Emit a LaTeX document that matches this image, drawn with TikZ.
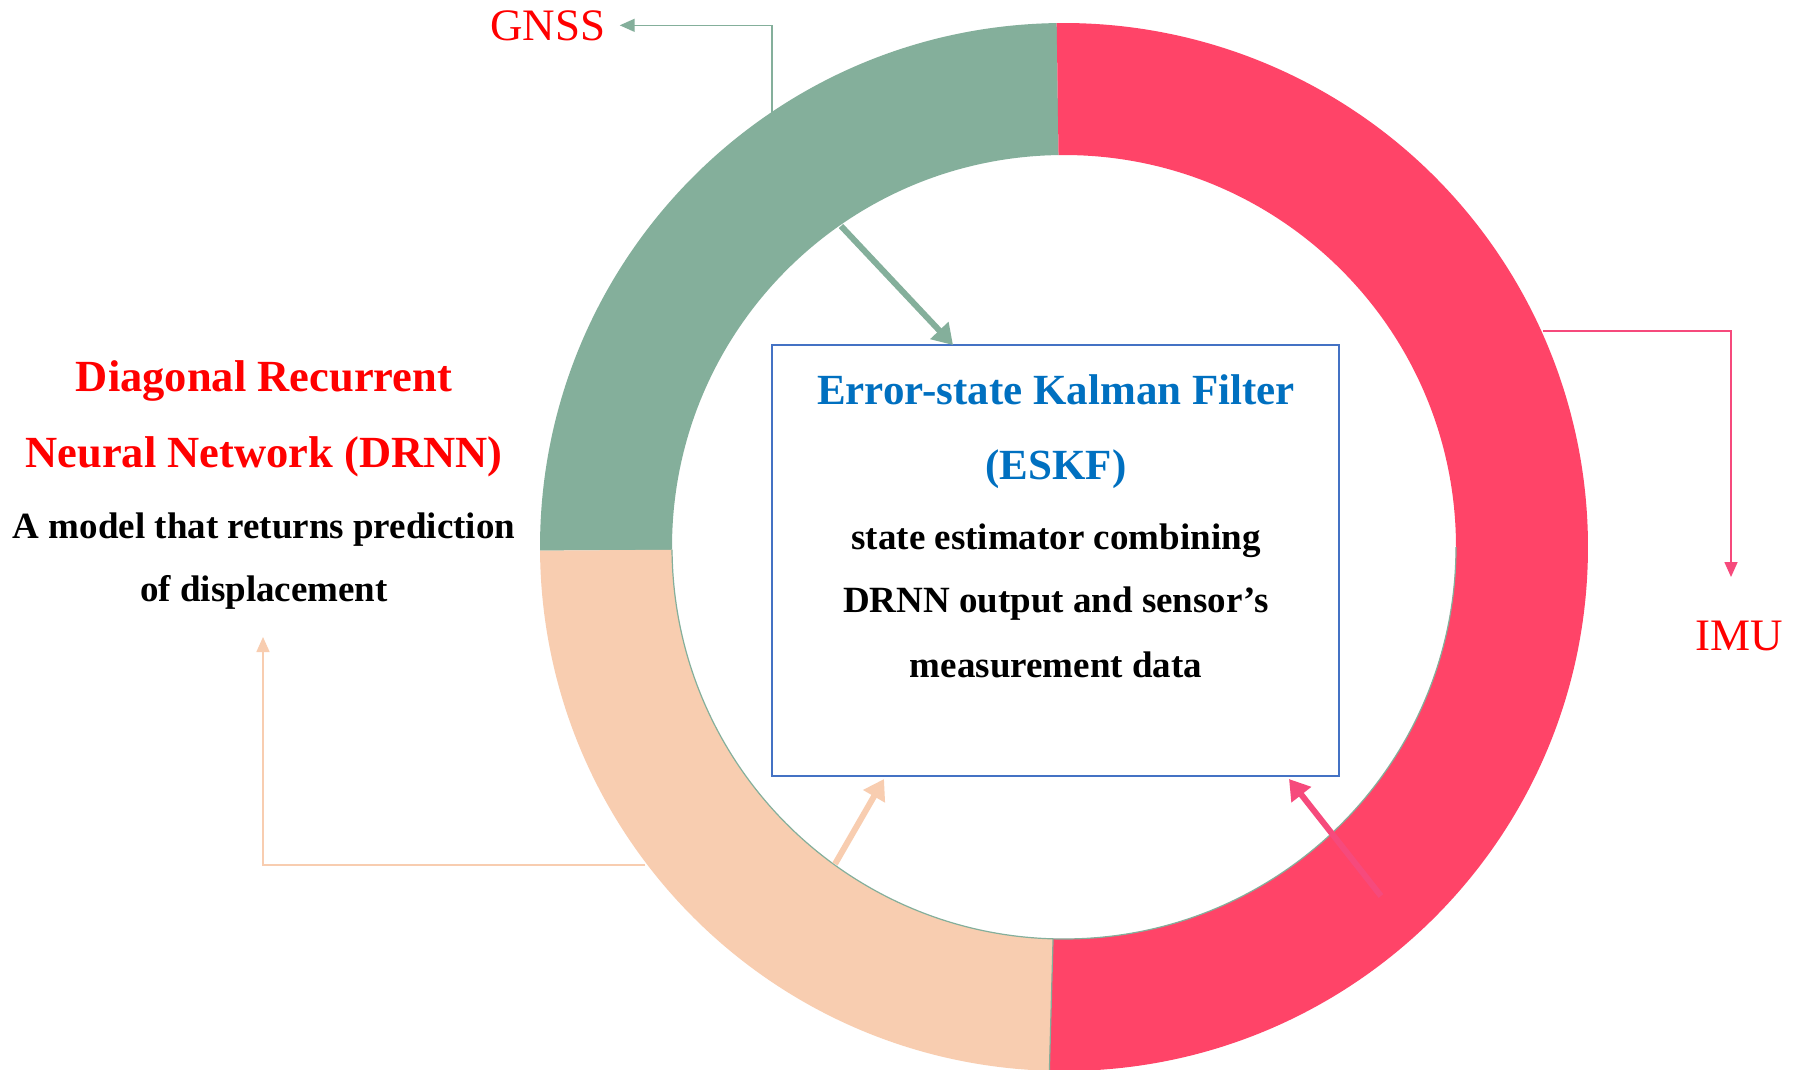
\documentclass[tikz,border=0pt]{standalone}
\usepackage{fontspec}
\setmainfont{Liberation Serif}
\usetikzlibrary{arrows.meta,calc}
\definecolor{ringgreen}{RGB}{132,175,155}
\definecolor{ringred}{RGB}{255,68,104}
\definecolor{ringpeach}{RGB}{248,205,176}
\definecolor{boxblue}{RGB}{68,114,196}
\definecolor{titleblue}{RGB}{0,112,192}
\definecolor{labelred}{RGB}{255,0,0}
\definecolor{arrowpink}{RGB}{246,74,124}
\tikzset{
  sensorlbl/.style={text=labelred, font=\fontsize{45}{50}\selectfont, inner sep=0pt},
  drnntitle/.style={text=labelred, font=\bfseries\fontsize{44.5}{50}\selectfont, inner sep=0pt, anchor=base},
  drnnbody/.style={text=black, font=\bfseries\fontsize{37}{42}\selectfont, inner sep=0pt, anchor=base},
  eskftitle/.style={text=titleblue, font=\bfseries\fontsize{43}{48}\selectfont, inner sep=0pt, anchor=base},
  eskfbody/.style={text=black, font=\bfseries\fontsize{37}{42}\selectfont, inner sep=0pt, anchor=base},
  thinconn/.style={line width=1.6pt, -{Triangle[length=15pt,width=13pt]}},
  thickconn/.style={line width=6pt, -{Triangle[length=20pt,width=24pt]}},
}
\begin{document}
\begin{tikzpicture}[x=1pt,y=1pt]
\useasboundingbox (0,0) rectangle (1801,-1069);
\fill[white] (0,0) rectangle (1801,-1069);

% doughnut ring
\begin{scope}[shift={(1064,-547)}]
  \fill[ringgreen] (90.8:524pt) arc[start angle=90.8, end angle=180.4, radius=524pt]
     -- (180.4:392pt) arc[start angle=180.4, end angle=90.8, radius=392pt] -- cycle;
  \fill[ringpeach] (180.4:524pt) arc[start angle=180.4, end angle=268.4, radius=524pt]
     -- (268.4:392pt) arc[start angle=268.4, end angle=180.4, radius=392pt] -- cycle;
  \fill[ringred] (268.4:524pt) arc[start angle=268.4, end angle=450.8, radius=524pt]
     -- (450.8:392pt) arc[start angle=450.8, end angle=268.4, radius=392pt] -- cycle;
  \draw[ringgreen, line width=1.2pt] (180.4:392pt) arc[start angle=180.4, end angle=360, radius=392pt];
  \draw[ringgreen, line width=1.2pt] (268.4:392pt) -- (268.4:524pt);
\end{scope}

% ESKF box
\node[draw=boxblue, line width=2pt, minimum width=567pt, minimum height=431pt, inner sep=0pt] (eskf) at (1055.5,-560.5) {};
\node[eskftitle] (eskfA) at (1056,-404) {Error-state Kalman Filter};
\node[eskftitle] (eskfB) at (1056,-479) {(ESKF)};
\node[eskfbody] (eskfC) at (1056,-549) {state estimator combining};
\node[eskfbody] (eskfD) at (1056,-612) {DRNN output and sensor’s};
\node[eskfbody] (eskfE) at (1056,-677) {measurement data};

% DRNN text
\node[drnntitle] (drnnA) at (264,-391) {Diagonal Recurrent};
\node[drnntitle] (drnnB) at (264,-467) {Neural Network (DRNN)};
\node[drnnbody] (drnnC) at (264,-538) {A model that returns prediction};
\node[drnnbody] (drnnD) at (264,-601) {of displacement};

% sensor labels
\node[sensorlbl, anchor=base, inner xsep=14pt] (gnss) at (548,-40) {GNSS};
\node[sensorlbl, anchor=base] (imu) at (1739,-650) {IMU};

% thin connectors
\coordinate (gsrc) at (772,-115);
\draw[thinconn, ringgreen] (gsrc) |- (gnss.east);
\coordinate (isrc) at (1543,-331);
\coordinate (itip) at (1731,-577);
\draw[thinconn, arrowpink] (isrc) -| (itip);
\coordinate (dsrc) at (645,-865);
\coordinate (dtip) at (263,-637);
\draw[thinconn, ringpeach] (dsrc) -| (dtip);

% thick arrows into the box
\coordinate (gin) at (841,-226);
\coordinate (gend) at (953,-345);
\draw[thickconn, ringgreen] (gin) -- (gend);
\coordinate (pin) at (835,-864);
\coordinate (pend) at (884,-779);
\draw[thickconn, ringpeach] (pin) -- (pend);
\coordinate (rin) at (1381,-896);
\coordinate (rend) at (1289,-779);
\draw[thickconn, arrowpink] (rin) -- (rend);
\end{tikzpicture}
\end{document}
